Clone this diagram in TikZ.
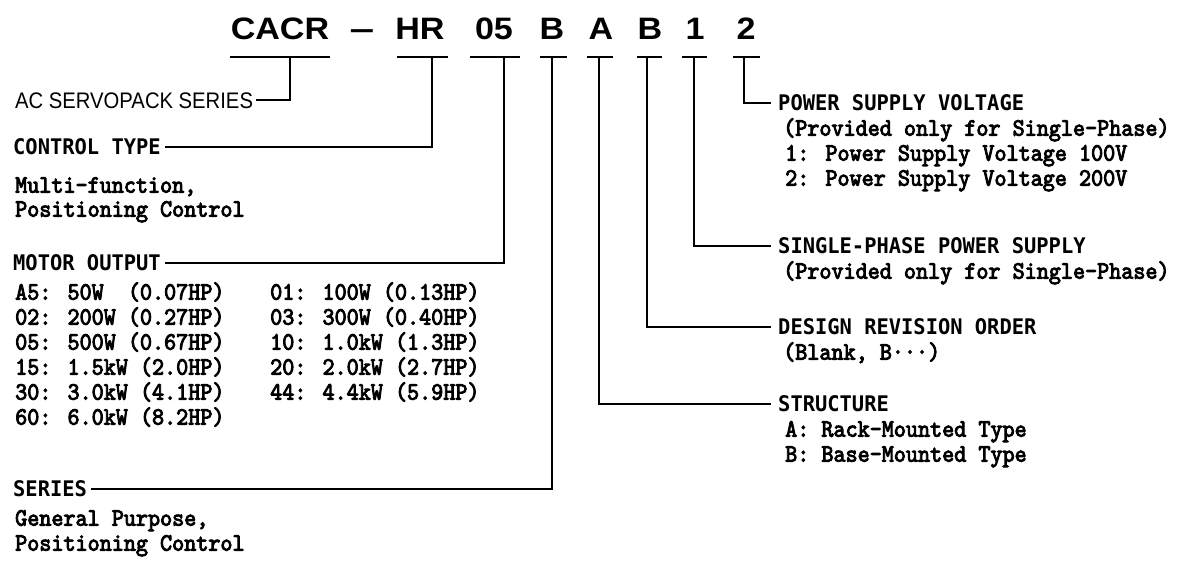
\documentclass[tikz,border=0pt]{standalone}
\usepackage{fontspec}
\setmainfont{Liberation Sans}
\newfontfamily\titlefont[FakeStretch=1.1]{Liberation Sans}
\newfontfamily\sansnarrow[FakeStretch=0.9]{Liberation Sans}
\newfontfamily\headfont[FakeStretch=0.95]{DejaVu Sans Mono}
\newfontfamily\bodyfont[Extension=.otf,FakeBold=3.5,FakeStretch=0.92]{lmmono10-regular}
\begin{document}
\begin{tikzpicture}[x=1pt,y=-1pt,
  lnk/.style={line width=2.5pt, line join=miter},
  ulin/.style={line width=2.2pt},
  ttl/.style={inner sep=0pt, anchor=base, font=\titlefont\bfseries\fontsize{31}{32}\selectfont},
  sansl/.style={inner sep=0pt, anchor=west, text height=16pt, text depth=0pt, font=\sansnarrow\fontsize{22.5}{24}\selectfont},
  head/.style={inner sep=0pt, anchor=west, text height=15.5pt, text depth=0pt, font=\headfont\bfseries\fontsize{21.5}{23}\selectfont},
  body/.style={inner sep=0pt, anchor=west, text height=15.3pt, text depth=0pt, font=\bodyfont\fontsize{25}{26}\selectfont}]
\fill[white] (0,0) rectangle (1179,571);
\useasboundingbox (0,0) rectangle (1179,571);

% title
\node[ttl] (tCACR) at (280,39) {CACR};
\node[ttl] (tdash) at (362,39) {\scalebox{1.3}[1]{\textendash}};
\node[ttl] (tHR) at (420,39) {HR};
\node[ttl] (t05) at (494,39) {05};
\node[ttl] (tB) at (552,39) {B};
\node[ttl] (tA) at (601,39) {A};
\node[ttl] (tB2) at (650,39) {B};
\node[ttl] (t1) at (695,39) {1};
\node[ttl] (t2) at (746,39) {2};

% underlines
\draw[ulin] (230,57) -- (330,57);
\draw[ulin] (397,57) -- (448,57);
\draw[ulin] (470,57) -- (520,57);
\draw[ulin] (540,57) -- (567,57);
\draw[ulin] (587,57) -- (613,57);
\draw[ulin] (637,57) -- (662,57);
\draw[ulin] (682,57) -- (707,57);
\draw[ulin] (733,57) -- (760,57);

\coordinate (k1) at (290,57);
\coordinate (k2) at (432,57);
\coordinate (k3) at (504,57);
\coordinate (k4) at (552,57);
\coordinate (k5) at (599,57);
\coordinate (k6) at (647,57);
\coordinate (k7) at (694,57);
\coordinate (k8) at (744,57);

% left labels
\node[sansl] (acs) at (15,100) {AC SERVOPACK SERIES};
\node[head] (ctl) at (13,147) {CONTROL TYPE};
\node[body] (ctl1) at (15,185) {Multi-function,};
\node[body] (ctl2) at (15,209) {Positioning Control};
\node[head] (mot) at (13,263) {MOTOR OUTPUT};
\node[body] (mA5) at (15,292) {A5: 50W\ \ (0.07HP)};
\node[body] (m02) at (15,317) {02: 200W (0.27HP)};
\node[body] (m05) at (15,342) {05: 500W (0.67HP)};
\node[body] (m15) at (15,367) {15: 1.5kW (2.0HP)};
\node[body] (m30) at (15,392) {30: 3.0kW (4.1HP)};
\node[body] (m60) at (15,417) {60: 6.0kW (8.2HP)};
\node[body] (m01) at (270,292) {01: 100W (0.13HP)};
\node[body] (m03) at (270,317) {03: 300W (0.40HP)};
\node[body] (m10) at (270,342) {10: 1.0kW (1.3HP)};
\node[body] (m20) at (270,367) {20: 2.0kW (2.7HP)};
\node[body] (m44) at (270,392) {44: 4.4kW (5.9HP)};
\node[head] (ser) at (13,489) {SERIES};
\node[body] (ser1) at (15,518) {General Purpose,};
\node[body] (ser2) at (15,543) {Positioning Control};

% right labels
\node[head] (psv) at (778,103) {POWER SUPPLY VOLTAGE};
\node[body] (psv1) at (783,128) {(Provided only for Single-Phase)};
\node[body] (psv2) at (785,153) {1: Power Supply Voltage 100V};
\node[body] (psv3) at (785,178) {2: Power Supply Voltage 200V};
\node[head] (sps) at (778,246) {SINGLE-PHASE POWER SUPPLY};
\node[body] (sps1) at (783,271) {(Provided only for Single-Phase)};
\node[head] (dro) at (778,327) {DESIGN REVISION ORDER};
\node[body] (dro1) at (783,352) {(Blank, B\textperiodcentered\textperiodcentered\textperiodcentered)};
\node[head] (str) at (778,404) {STRUCTURE};
\node[body] (str1) at (785,429) {A: Rack-Mounted Type};
\node[body] (str2) at (785,454) {B: Base-Mounted Type};

% connectors
\draw[lnk] (k1) |- ([xshift=3pt]acs.east);
\draw[lnk] (k2) |- ([xshift=4pt]ctl.east);
\draw[lnk] (k3) |- ([xshift=4pt]mot.east);
\draw[lnk] (k4) |- ([xshift=4pt]ser.east);
\draw[lnk] (k5) |- ([xshift=-7pt]str.west);
\draw[lnk] (k6) |- ([xshift=-7pt]dro.west);
\draw[lnk] (k7) |- ([xshift=-7pt]sps.west);
\draw[lnk] (k8) |- ([xshift=-7pt]psv.west);
\end{tikzpicture}
\end{document}
